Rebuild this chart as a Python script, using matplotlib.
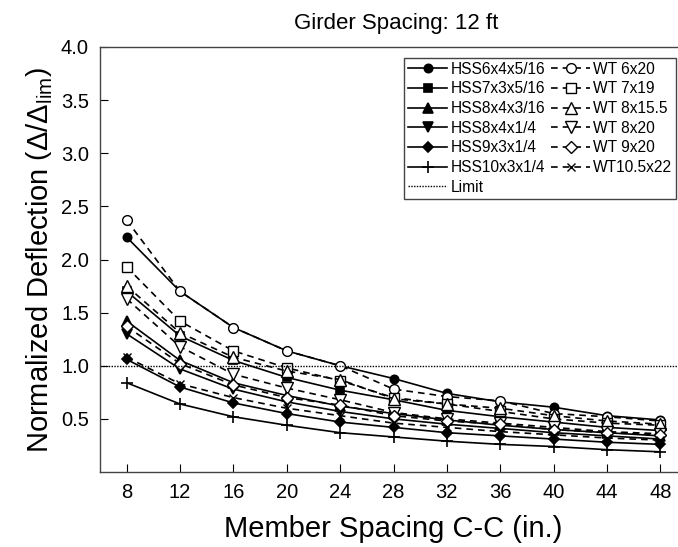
import matplotlib
matplotlib.use("Agg")
import matplotlib.pyplot as plt

plt.rcParams['font.family'] = ['Liberation Sans', 'DejaVu Sans']
plt.rcParams['mathtext.fontset'] = 'custom'
plt.rcParams['mathtext.rm'] = 'Liberation Sans'
plt.rcParams['mathtext.it'] = 'Liberation Sans:italic'

spacing = [8, 12, 16, 20, 24, 28, 32, 36, 40, 44, 48]

hss_labels = ["HSS6x4x5/16", "HSS7x3x5/16", "HSS8x4x3/16",
              "HSS8x4x1/4", "HSS9x3x1/4", "HSS10x3x1/4"]
wt_labels = ["WT 6x20", "WT 7x19", "WT 8x15.5", "WT 8x20", "WT 9x20", "WT10.5x22"]

hss6 = [2.21, 1.70, 1.36, 1.14, 1.00, 0.88, 0.74, 0.66, 0.61, 0.53, 0.49]
hss7 = [1.70, 1.28, 1.05, 0.89, 0.77, 0.68, 0.58, 0.52, 0.47, 0.42, 0.39]
hss8a = [1.42, 1.05, 0.84, 0.72, 0.62, 0.55, 0.49, 0.44, 0.40, 0.37, 0.34]
hss8b = [1.30, 0.97, 0.78, 0.66, 0.57, 0.50, 0.45, 0.41, 0.37, 0.34, 0.31]
hss9 = [1.06, 0.80, 0.65, 0.55, 0.47, 0.42, 0.37, 0.34, 0.31, 0.28, 0.26]
hss10 = [0.84, 0.64, 0.52, 0.44, 0.37, 0.33, 0.29, 0.26, 0.24, 0.21, 0.19]

wt6 = [2.37, 1.70, 1.36, 1.14, 1.00, 0.78, 0.71, 0.67, 0.55, 0.52, 0.48]
wt7 = [1.93, 1.42, 1.14, 0.98, 0.86, 0.70, 0.64, 0.57, 0.50, 0.46, 0.44]
wt8a = [1.75, 1.31, 1.08, 0.95, 0.87, 0.69, 0.64, 0.60, 0.53, 0.48, 0.45]
wt8b = [1.63, 1.18, 0.92, 0.79, 0.68, 0.56, 0.50, 0.46, 0.42, 0.38, 0.36]
wt9 = [1.37, 1.02, 0.82, 0.70, 0.63, 0.53, 0.48, 0.45, 0.40, 0.37, 0.35]
wt10 = [1.08, 0.83, 0.70, 0.60, 0.53, 0.46, 0.42, 0.38, 0.35, 0.32, 0.30]

limit = 1.0

hss_series = [hss6, hss7, hss8a, hss8b, hss9, hss10]
wt_series = [wt6, wt7, wt8a, wt8b, wt9, wt10]
markers = ["o", "s", "^", "v", "D", "+"]
wt_markers = ["o", "s", "^", "v", "D", "x"]
sizes = {"o": 6, "s": 5.5, "^": 7, "v": 7, "D": 5, "+": 8, "x": 5}

fig = plt.figure(figsize=(6.78, 5.47), dpi=100)
ax = fig.add_axes([100 / 678, 1 - 472 / 547, 587 / 678, 425 / 547])

hss_handles = []
for y, lab, m in zip(hss_series, hss_labels, markers):
    h, = ax.plot(spacing, y, color="black", lw=1.2, marker=m, ms=sizes[m],
                 mfc="black", mec="black", mew=1.2, label=lab)
    hss_handles.append(h)

wt_handles = []
for y, lab, m in zip(wt_series, wt_labels, wt_markers):
    h, = ax.plot(spacing, y, color="black", lw=1.2, ls=(0, (4, 3)), marker=m,
                 ms=sizes[m] + 1, mfc="white", mec="black", mew=1.0, label=lab)
    wt_handles.append(h)

lim = ax.axhline(limit, color="black", lw=1.0, ls=(0, (1, 1)), label="Limit")

handles = hss_handles + [lim] + wt_handles
ax.legend(handles=handles, ncol=2, loc="upper right", fontsize=11.2,
          frameon=True, fancybox=False, edgecolor="#444444", framealpha=1,
          handlelength=2.5, handletextpad=0.2, columnspacing=0.4,
          labelspacing=0.3, borderpad=0.25, borderaxespad=0.7)

ax.set_xlim(6, 50)
ax.set_ylim(0, 4)
ax.set_xticks(spacing)
ax.set_yticks([0.5, 1.0, 1.5, 2.0, 2.5, 3.0, 3.5, 4.0])
ax.set_yticklabels([f"{v:.1f}" for v in [0.5, 1.0, 1.5, 2.0, 2.5, 3.0, 3.5, 4.0]])
ax.tick_params(direction="in", length=6, labelsize=14.5, pad=8, top=False, right=False)
for s in ax.spines.values():
    s.set_linewidth(1.0)
    s.set_color("#444444")

ax.set_xlabel("Member Spacing C-C (in.)", fontsize=21, labelpad=9)
ax.set_ylabel(r"Normalized Deflection $\left(\Delta/\Delta_{\mathrm{lim}}\right)$", fontsize=21, labelpad=4)
ax.set_title("Girder Spacing: 12 ft", fontsize=16, pad=13)
ax.title.set_position((290 / 587 + 0.01, 1.0))

fig.savefig("out.png", dpi=100)
